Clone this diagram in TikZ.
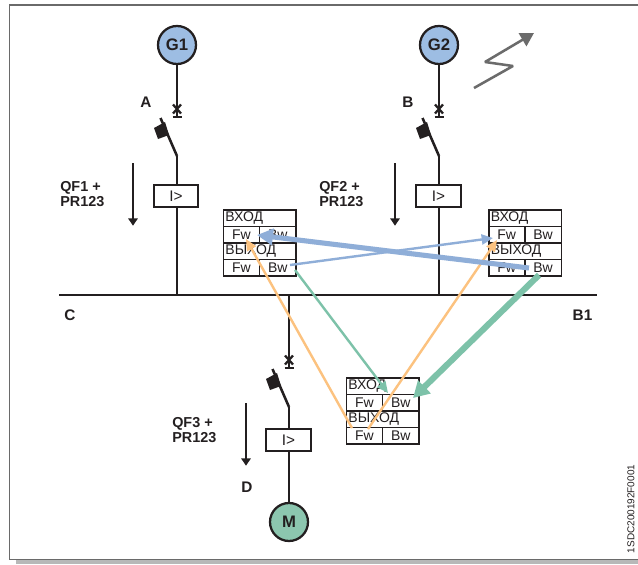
\documentclass[tikz,border=0pt]{standalone}
\usepackage{fontspec}
\setmainfont{Liberation Sans}
\usetikzlibrary{arrows.meta,calc}
\definecolor{ablue}{HTML}{8FAED8}
\definecolor{cblue}{HTML}{9DBDE3}
\definecolor{agreen}{HTML}{7DC2A9}
\definecolor{cgreen}{HTML}{8CC6AF}
\definecolor{aorange}{HTML}{FCC27F}
\definecolor{ink}{HTML}{231F20}
\definecolor{frameg}{HTML}{6A6A6A}
\tikzset{
  px/.style={x=0.75pt,y=-0.75pt},
  wire/.style={draw=ink,line width=1.9pt},
  machine/.style={circle,draw=ink,line width=1.7pt,minimum size=28.5pt,inner sep=0pt,font=\bfseries\fontsize{12.5}{12.5}\selectfont,text=ink},
  relay/.style={rectangle,draw=ink,line width=1.6pt,fill=white,minimum width=33.5pt,minimum height=16.5pt,inner sep=0pt,font=\fontsize{11.5}{11.5}\selectfont,text=ink},
  lbl/.style={font=\bfseries\fontsize{11.5}{11.5}\selectfont,text=ink,inner sep=0pt},
  qf/.style={font=\bfseries\fontsize{10.8}{11.3}\selectfont,text=ink,inner sep=0pt,align=left,anchor=west},
  rowh/.style={rectangle,draw=ink,line width=1.15pt,minimum width=54.5pt,minimum height=12.4pt,inner sep=1.5pt,anchor=north west,text width=51.5pt,align=left,font=\fontsize{10.5}{10.5}\selectfont,text=ink},
  cell/.style={rectangle,draw=ink,line width=1.15pt,minimum height=12.4pt,inner sep=0pt,anchor=north west,font=\fontsize{10.5}{10.5}\selectfont,text=ink},
  flowthick/.style={line width=3.8pt,-{Triangle[length=12pt,width=12pt]}},
  flowgreen/.style={line width=4.6pt,-{Triangle[length=12pt,width=13pt]}},
  flowthin/.style={line width=1.8pt,-{Triangle[length=8.5pt,width=7.5pt]}},
  downarrow/.style={draw=ink,line width=1.35pt,-{Triangle[length=5.5pt,width=7pt]}},
}
% #1 name, #2 x left, #3 y top, #4 divider offset
\newcommand{\iotable}[4]{%
  \node[rowh] (#1in) at (#2,#3) {ВХОД};
  \node[cell,minimum width=#4*0.75pt] (#1fa) at (#2,#3+16.5) {Fw};
  \node[cell,minimum width=(72.7-#4)*0.75pt] (#1ba) at (#2+#4,#3+16.5) {Bw};
  \node[rowh] (#1out) at (#2,#3+33) {ВЫХОД};
  \node[cell,minimum width=#4*0.75pt] (#1fb) at (#2,#3+49.5) {Fw};
  \node[cell,minimum width=(72.7-#4)*0.75pt] (#1bb) at (#2+#4,#3+49.5) {Bw};
}
% #1 x of the line, #2 shift y, #3 name
\newcommand{\breaker}[3]{%
  \node[inner sep=0pt,minimum size=1pt] (#3sw) at (#1,#2+156) {};
  \coordinate (#3swt) at (#1-16.5,#2+118);
  \coordinate (#3x) at (#1,#2+109);
  \coordinate (#3bar) at (#1,#2+116);
  \draw[wire,line width=1.7pt] (#3x)++(-4,-4.5) -- ++(8,9) (#3x)++(4,-4.5) -- ++(-8,9);
  \draw[wire,line width=1.7pt] (#3bar)++(-4.5,1) -- ++(9,0);
  \draw[wire,line join=miter] (#3swt) -- (#3sw.center);
  \fill[ink] (#1-23,#2+128) -- (#1-12,#2+122) -- (#1-8,#2+135) -- (#1-19,#2+139) -- cycle;
}
\begin{document}
\begin{tikzpicture}[px]
\useasboundingbox (0,0) rectangle (638,564);
\fill[white] (0,0) rectangle (638,564);
\fill[black!28] (16,560) rectangle (638,564);
\draw[frameg,line width=1.1pt] (638,5) -- (9.5,5) -- (9.5,559.5) -- (638,559.5);

% bus
\node[inner sep=0pt,minimum size=0pt] (busl) at (59,295) {};
\node[inner sep=0pt,minimum size=0pt] (busr) at (597,295) {};
\draw[wire] (busl) -- (busr);
\node[inner sep=0pt,minimum size=0pt] (jA) at (177,295) {};
\node[inner sep=0pt,minimum size=0pt] (jB) at (439,295) {};
\node[inner sep=0pt,minimum size=0pt] (jD) at (289,295) {};

% feeder 1
\node[machine,fill=cblue] (G1) at (177,45) {G1};
\breaker{177}{0}{a}
\node[relay] (r1) at (176,196) {I>};
\draw[wire] (G1) -- (ax);
\draw[wire] (ax) -- (abar);
\draw[wire] (asw.center) -- (r1.north -| asw.center);
\draw[wire] (r1.south -| asw.center) -- (jA);

% feeder 2
\node[machine,fill=cblue] (G2) at (439,45) {G2};
\breaker{439}{0}{b}
\node[relay] (r2) at (438.5,196) {I>};
\draw[wire] (G2) -- (bx);
\draw[wire] (bx) -- (bbar);
\draw[wire] (bsw.center) -- (r2.north -| bsw.center);
\draw[wire] (r2.south -| bsw.center) -- (jB);

% feeder 3
\node[machine,fill=cgreen] (M) at (289,522) {M};
\breaker{289}{251}{c}
\node[relay] (r3) at (288.5,440) {I>};
\draw[wire] (jD) -- (cx);
\draw[wire] (cx) -- (cbar);
\draw[wire] (csw.center) -- (r3.north -| csw.center);
\draw[wire] (r3.south -| csw.center) -- (M);

% labels
\node[lbl] (la) at (146,102) {A};
\node[lbl] (lb) at (408,102) {B};
\node[lbl] (lc) at (70,315) {C};
\node[lbl] (lb1) at (582.5,315) {B1};
\node[lbl] (ld) at (247,487) {D};
\node[qf] (q1) at (60,194.5) {QF1 +\\PR123};
\node[qf] (q2) at (319,194.5) {QF2 +\\PR123};
\node[qf] (q3) at (172,430.5) {QF3 +\\PR123};

% direction arrows
\node[inner sep=0pt,minimum size=0pt] (d1a) at (133,163) {};
\node[inner sep=0pt,minimum size=0pt] (d1b) at (133,226) {};
\node[inner sep=0pt,minimum size=0pt] (d2a) at (395,163) {};
\node[inner sep=0pt,minimum size=0pt] (d2b) at (395,226) {};
\node[inner sep=0pt,minimum size=0pt] (d3a) at (246,403) {};
\node[inner sep=0pt,minimum size=0pt] (d3b) at (246,466) {};
\draw[downarrow] (d1a) -- (d1b);
\draw[downarrow] (d2a) -- (d2b);
\draw[downarrow] (d3a) -- (d3b);

% tables
\iotable{s}{222.7}{209}{36}
\iotable{t}{488}{209}{36}
\iotable{u}{345.7}{377}{36}

% flow ends
\coordinate (e1) at (257,235);
\coordinate (s1) at (529,268);
\coordinate (e2) at (493,238);
\coordinate (s2) at (290,265);
\coordinate (e3) at (388,393);
\coordinate (s3) at (295,270);
\coordinate (e4) at (413,398);
\coordinate (s4) at (539,275);
\coordinate (e5) at (246,239);
\coordinate (s5) at (352,428);
\coordinate (e6) at (497,240);
\coordinate (s6) at (368,429);

\draw[ablue,flowthin] (s2) -- (e2);
\draw[agreen,flowthin] (s3) -- (e3);
\draw[aorange,flowthin] (s5) -- (e5);
\draw[aorange,flowthin] (s6) -- (e6);
\draw[ablue,flowthick] (s1) -- (e1);
\draw[agreen,flowgreen] (s4) -- (e4);

% lightning
\coordinate (l0) at (474,88);
\coordinate (l1) at (513,66);
\coordinate (l2) at (485,62);
\coordinate (l3) at (534,33);
\draw[black!58,line width=1.9pt,line join=bevel,-{Triangle[length=10pt,width=11pt]}] (l0) -- (l1) -- (l2) -- (l3);

% code
\node[rotate=90,font=\fontsize{7.5}{8}\selectfont,text=ink,inner sep=0pt] (code) at (631,509) {1SDC200192F0001};
\end{tikzpicture}
\end{document}
